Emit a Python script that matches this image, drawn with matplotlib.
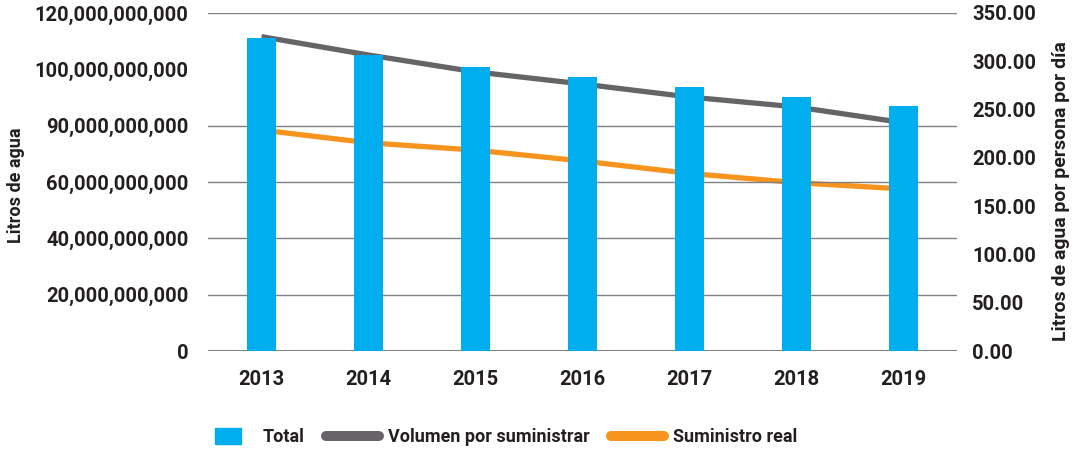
import matplotlib
matplotlib.use("Agg")
import matplotlib.pyplot as plt
from matplotlib.lines import Line2D
import numpy as np

plt.rcParams['font.family'] = ['Roboto', 'DejaVu Sans']
plt.rcParams['font.weight'] = 'bold'
plt.rcParams['axes.labelweight'] = 'bold'

# datos
anios = ["2013", "2014", "2015", "2016", "2017", "2018", "2019"]
total = [111.1e9, 105.1e9, 100.8e9, 97.3e9, 93.7e9, 90.2e9, 87.0e9]       # litros (eje izq.)
volumen = [325.5, 306.5, 289.0, 276.5, 263.0, 252.7, 236.4]             # l/persona/día
suministro = [228.8, 215.6, 208.0, 196.7, 183.9, 174.3, 167.8]          # l/persona/día

yticks_izq = [0, 20e9, 40e9, 60e9, 80e9, 100e9, 120e9]
ylabels_izq = ["0", "20,000,000,000", "40,000,000,000", "60,000,000,000",
               "90,000,000,000", "100,000,000,000", "120,000,000,000"]
yticks_der = [0, 50, 100, 150, 200, 250, 300, 350]

AZUL = "#00AEEF"
GRIS = "#666467"
NARANJA = "#F7941D"
TXT = "#231F20"

fig = plt.figure(figsize=(10.74, 4.51), dpi=100)
ax = fig.add_axes([0.1937, 0.2217, 0.6973, 0.7495])
ax2 = ax.twinx()

x = np.arange(len(anios))
ax2.plot(x, volumen, color=GRIS, lw=3.8, solid_capstyle="butt")
ax2.plot(x, suministro, color=NARANJA, lw=3.8, solid_capstyle="butt")
ax2.set_ylim(0, 350)
ax2.set_yticks(yticks_der)
ax2.set_yticklabels([f"{v:.2f}" for v in yticks_der])

# barras por delante de las líneas
ax.set_zorder(ax2.get_zorder() + 1)
ax.patch.set_visible(False)
ax.bar(x, total, width=0.27, color=AZUL, zorder=3)
ax.set_xlim(-0.5, 6.5)
ax.set_ylim(0, 120e9)
ax.set_yticks(yticks_izq)
ax.set_yticklabels(ylabels_izq)
ax.set_xticks(x)
ax.set_xticklabels(anios)
ax.set_axisbelow(True)
ax.grid(axis="y", color="#808080", lw=1.0)
ax.yaxis.get_gridlines()[5].set_visible(False)
ax.yaxis.get_gridlines()[0].set_linewidth(2.2)

for a in (ax, ax2):
    for s in a.spines.values():
        s.set_visible(False)
    a.tick_params(length=0, labelsize=14.5, labelcolor=TXT)
ax.tick_params(axis="y", pad=14)
ax.tick_params(axis="x", pad=14)
ax2.tick_params(axis="y", pad=11)

ax.set_ylabel("Litros de agua", fontsize=13, color=TXT)
ax.yaxis.set_label_coords(-0.2443, 0.49)
ax2.set_ylabel("Litros de agua por persona por día", fontsize=14, color=TXT)
ax2.yaxis.set_label_coords(1.1268, 0.473)

# rectángulo del legend para "Total"
rect = [(-1, -0.62), (1, -0.62), (1, 0.62), (-1, 0.62), (-1, -0.62)]
handles = [Line2D([], [], color=AZUL, marker=rect, markersize=19, linestyle="none"),
           Line2D([], [], color=GRIS, lw=7.2, solid_capstyle="round"),
           Line2D([], [], color=NARANJA, lw=7.2, solid_capstyle="round")]
fig.legend(handles, ["Total", "Volumen por suministrar", "Suministro real"],
           loc="center left", bbox_to_anchor=(0.1792, 0.031), ncol=3, frameon=False,
           fontsize=13, handlelength=2.9, borderpad=0, columnspacing=1.2,
           handletextpad=0.5, labelcolor=TXT)

fig.savefig("out.png", dpi=100)
